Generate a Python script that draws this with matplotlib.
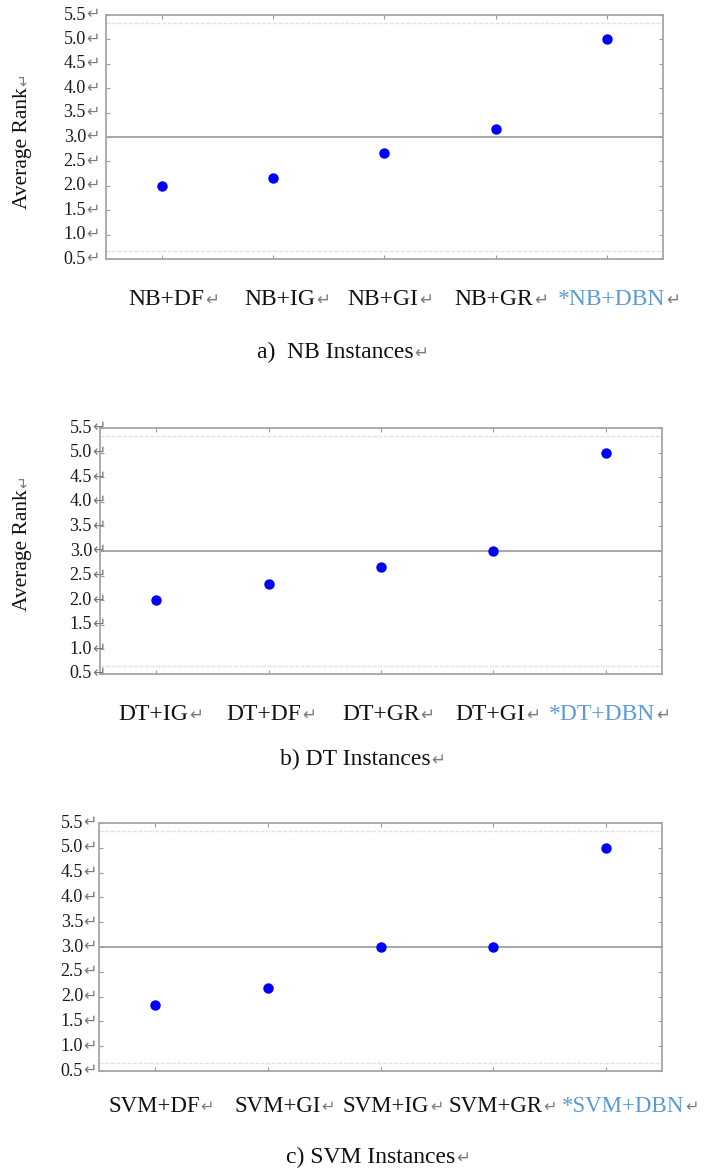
import matplotlib
matplotlib.use("Agg")
import matplotlib.pyplot as plt
from matplotlib import transforms

# data
nb_methods = ['NB+DF', 'NB+IG', 'NB+GI', 'NB+GR', '*NB+DBN']
nb_ranks = [2.0, 2.17, 2.67, 3.17, 5.0]
dt_methods = ['DT+IG', 'DT+DF', 'DT+GR', 'DT+GI', '*DT+DBN']
dt_ranks = [2.0, 2.33, 2.67, 3.0, 5.0]
svm_methods = ['SVM+DF', 'SVM+GI', 'SVM+IG', 'SVM+GR', '*SVM+DBN']
svm_ranks = [1.83, 2.17, 3.0, 3.0, 5.0]
y_ticks = [0.5, 1.0, 1.5, 2.0, 2.5, 3.0, 3.5, 4.0, 4.5, 5.0, 5.5]
captions = ['a)  NB Instances', 'b) DT Instances', 'c) SVM Instances']

W, H = 717, 1176
fig = plt.figure(figsize=(W / 100, H / 100), dpi=100)
renderer = fig.canvas.get_renderer()

SERIF = 'Liberation Serif'
MARK = '\u21b5'
GRAY = '#7a7a7a'
DBN_BLUE = '#5b9bd5'


def word_text(x, y, s, color='black', size=17):
    # text followed by a grey Word paragraph mark, x = left edge, y = baseline (pixels)
    t = fig.text(x / W, 1 - y / H, s, color=color, fontsize=size, family=SERIF,
                 ha='left', va='baseline')
    bb = t.get_window_extent(renderer)
    fig.text((bb.x1 + 1) / W, 1 - y / H, MARK, color=GRAY, fontsize=size * 0.7,
             family='DejaVu Sans', ha='left', va='baseline')


def panel(box, ranks, methods, label_x, label_y, cap_x, cap_y, caption,
          tick_off, ylabel_pos=None, label_size=17):
    left, top, right, bottom = box
    ax = fig.add_axes([left / W, 1 - bottom / H, (right - left) / W, (bottom - top) / H])
    x = list(range(1, len(ranks) + 1))
    ax.axhline(3.0, color='#a0a0a0', lw=1.3, zorder=1)
    ax.axhline(5.33, color='#e2e2e2', lw=1.0, ls=(0, (3, 1)), zorder=1)
    ax.axhline(0.67, color='#e2e2e2', lw=1.0, ls=(0, (3, 1)), zorder=1)
    ax.plot(x, ranks, 'o', color='#0000ff', ms=7.5, mec='none', zorder=3)
    ax.set_xlim(0.5, len(ranks) + 0.5)
    ax.set_ylim(0.5, 5.5)
    ax.set_xticks(x)
    ax.set_yticks(y_ticks)
    ax.tick_params(direction='in', top=True, right=True, length=3, width=0.8,
                   color='#9a9a9a', labelleft=False, labelbottom=False)
    for sp in ax.spines.values():
        sp.set_color('#a6a6a6')
        sp.set_linewidth(1.3)

    # y tick labels with paragraph marks
    base = transforms.blended_transform_factory(ax.transAxes, ax.transData)
    shift = transforms.ScaledTranslation(-tick_off / 100, 0, fig.dpi_scale_trans)
    for v in y_ticks:
        ax.text(0, v, f'{v:.1f}', transform=base + shift, ha='right', va='center',
                fontsize=13, family=SERIF, color='#1a1a1a', clip_on=False)
        ax.text(0, v, MARK, transform=base + shift, ha='left', va='center',
                fontsize=11.5, family='DejaVu Sans', color=GRAY, clip_on=False)

    # method names under the axis
    for name, lx in zip(methods, label_x):
        col = DBN_BLUE if name.startswith('*') else '#111111'
        word_text(lx, label_y, name, color=col, size=label_size)

    word_text(cap_x, cap_y, caption, color='#111111')

    if ylabel_pos is not None:
        yx, yy = ylabel_pos
        t = fig.text(yx / W, 1 - yy / H, 'Average Rank', rotation=90, fontsize=15.5,
                     family=SERIF, ha='center', va='center', color='#111111')
        bb = t.get_window_extent(renderer)
        fig.text(yx / W, (bb.y1 + 1) / H, MARK, rotation=90, fontsize=11,
                 family='DejaVu Sans', ha='center', va='bottom', color=GRAY)
    return ax


panel((106, 15, 663, 259), nb_ranks, nb_methods,
      [128, 244, 347, 454, 558], 305, 257, 358, captions[0], 20, (23, 148))
panel((100, 428, 662, 674), dt_ranks, dt_methods,
      [118, 226, 342, 455, 549], 720, 280, 765, captions[1], 8, (23, 550))
panel((99, 823, 662, 1071), svm_ranks, svm_methods,
      [108, 234, 343, 448, 562], 1112, 286, 1163, captions[2], 16,
      label_size=16.5)

plt.savefig('out.png', dpi=100)
